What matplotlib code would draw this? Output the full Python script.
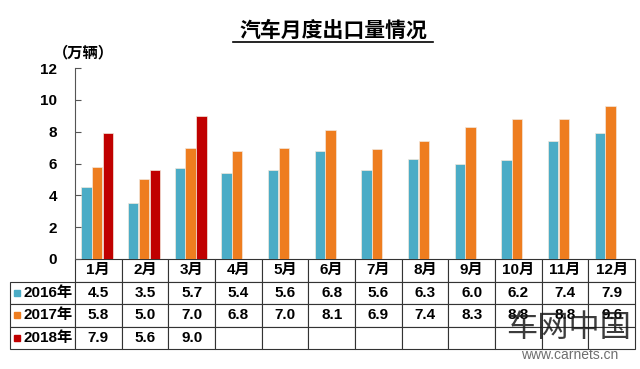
import numpy as np
import matplotlib.pyplot as plt
from matplotlib.lines import Line2D

plt.rcParams['font.family'] = ['Liberation Sans', 'Noto Sans CJK SC', 'DejaVu Sans']
plt.rcParams['font.weight'] = 'bold'

months = ["1月", "2月", "3月", "4月", "5月", "6月", "7月", "8月", "9月", "10月", "11月", "12月"]
years = ["2016年", "2017年", "2018年"]
v2016 = [4.5, 3.5, 5.7, 5.4, 5.6, 6.8, 5.6, 6.3, 6.0, 6.2, 7.4, 7.9]
v2017 = [5.8, 5.0, 7.0, 6.8, 7.0, 8.1, 6.9, 7.4, 8.3, 8.8, 8.8, 9.6]
v2018 = [7.9, 5.6, 9.0]
colors = ["#4BACC6", "#EE7D1F", "#C00000"]
yticks = [0, 2, 4, 6, 8, 10, 12]

fig = plt.figure(figsize=(6.4, 3.69), dpi=100)
ax = fig.add_axes([75 / 640, 1 - 259 / 369, 560 / 640, 191 / 369])

x = np.arange(len(months))
w = 0.225
series = [v2016, v2017, v2018]
offsets = [-0.255, -0.025, 0.21]
for vals, c, off in zip(series, colors, offsets):
    ax.bar(x[:len(vals)] + off, vals, width=w, color=c, edgecolor="#f3e8dc", linewidth=0.5)

ax.set_xlim(-0.5, 11.5)
ax.set_ylim(0, 12)
ax.set_yticks(yticks)
ax.set_yticklabels([str(t) for t in yticks], fontsize=11, fontweight='bold')
ax.tick_params(axis='y', direction='in', length=4, width=0.8, pad=13, color="#555555")
ax.set_xticks([])
for s in ["top", "right", "bottom"]:
    ax.spines[s].set_visible(False)
ax.spines["left"].set_color("#555555")

# table: first column holds the year labels
cell_text = [[""] + months]
for yr, vals in zip(years, series):
    cell_text.append([yr] + [f"{v:.1f}" for v in vals] + [""] * (len(months) - len(vals)))

label_w = 65 / 625
col_w = [label_w] + [(1 - label_w) / 12] * 12
tbl = ax.table(cellText=cell_text, cellLoc='center', colWidths=col_w,
               bbox=[-65 / 560, -90 / 191, 625 / 560, 90 / 191])
tbl.auto_set_font_size(False)
tbl.set_fontsize(11)
for (r, c), cell in tbl.get_celld().items():
    cell.set_linewidth(0.8)
    cell.set_edgecolor("#333333")
    cell.get_text().set_fontweight('bold')
    if c == 0:
        cell.get_text().set_ha('right')
        cell.PAD = 0.03
    if r == 0 and c == 0:
        cell.visible_edges = ''

# colored squares in row labels
for i, c in enumerate(colors):
    yy = (-90 + 22.5 * (2 - i) + 11.25) / 191
    ax.plot([-58 / 560], [yy], marker='s', markersize=5,
            color=c, transform=ax.transAxes, clip_on=False)

# title with underline
fig.text(333 / 640, 1 - 31 / 369, "汽车月度出口量情况", ha='center', va='center',
         fontsize=15, fontweight='bold')
fig.add_artist(Line2D([233 / 640, 433 / 640], [1 - 42 / 369, 1 - 42 / 369],
                      color='black', linewidth=1.2))
fig.text(83 / 640, 1 - 53 / 369, "（万辆）", ha='center', va='center',
         fontsize=11, fontweight='bold')

# watermark
fig.text(569 / 640, 1 - 329 / 369, "车网中国", ha='center', va='center',
         fontsize=22.5, color="#1a1a1a", alpha=0.85, fontweight='normal')
fig.text(570 / 640, 1 - 355 / 369, "www.carnets.cn", ha='center', va='center',
         fontsize=10, color="#555555", alpha=0.85, fontweight='normal')

fig.savefig("out.png", dpi=100, facecolor='white')
